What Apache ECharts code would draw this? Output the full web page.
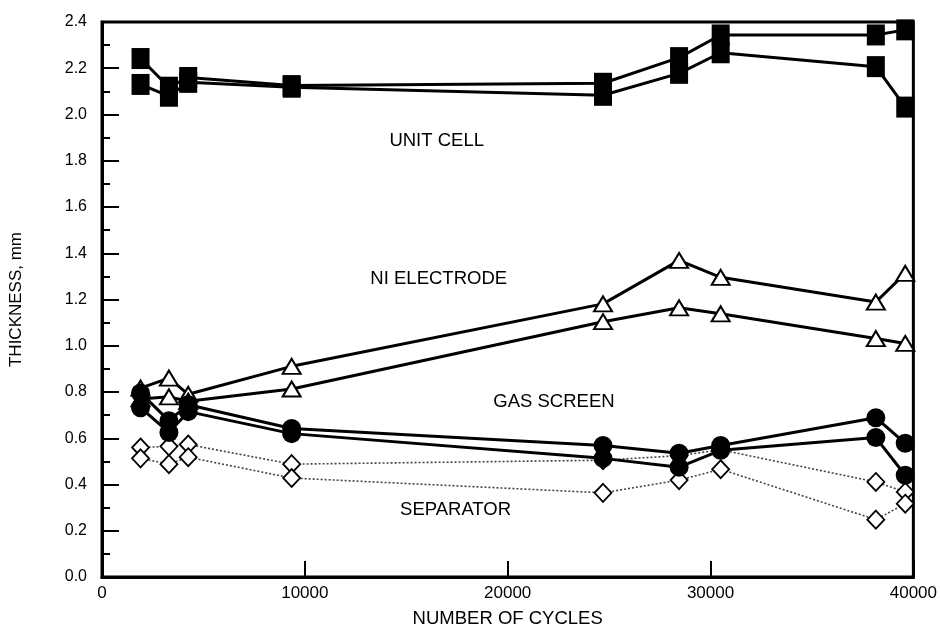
<!DOCTYPE html>
<html>
<head>
<meta charset="utf-8">
<script src="https://cdn.jsdelivr.net/npm/echarts@6/dist/echarts.min.js"></script>
<style>
html,body{margin:0;padding:0;background:#fff;}
#c{width:940px;height:633px;}
</style>
</head>
<body>
<div id="c"></div>
<script>
const cycles = [1900, 3300, 4250, 9350, 24700, 28450, 30500, 38150, 39600];
const unitCellA = [2.242, 2.118, 2.160, 2.125, 2.135, 2.246, 2.344, 2.344, 2.366];
const unitCellB = [2.130, 2.079, 2.139, 2.118, 2.083, 2.178, 2.267, 2.207, 2.032];
const niElectrodeA = [0.817, 0.860, 0.790, 0.911, 1.181, 1.369, 1.296, 1.189, 1.313];
const niElectrodeB = [0.770, 0.779, 0.760, 0.813, 1.104, 1.164, 1.138, 1.031, 1.010];
const gasScreenA = [0.796, 0.676, 0.745, 0.642, 0.569, 0.535, 0.569, 0.689, 0.578];
const gasScreenB = [0.732, 0.625, 0.715, 0.620, 0.513, 0.475, 0.548, 0.603, 0.440];
const separatorA = [0.560, 0.565, 0.573, 0.488, 0.505, 0.525, 0.550, 0.411, 0.368];
const separatorB = [0.513, 0.488, 0.518, 0.428, 0.364, 0.419, 0.466, 0.248, 0.317];
const labelNames = ['UNIT CELL', 'NI ELECTRODE', 'GAS SCREEN', 'SEPARATOR'];
const labelX = [16500, 16600, 22280, 17430];
const labelY = [1.887, 1.288, 0.757, 0.291];

const FONT = 'Liberation Sans, Arial, sans-serif';
const pair = (ys) => cycles.map((x, i) => [x, ys[i]]);

function mkSeries(ys, opt) {
  return Object.assign({
    type: 'line',
    data: pair(ys),
    clip: false,
    animation: false,
    silent: true
  }, opt);
}

const solid = { color: '#000', width: 3 };
const sepLine = { color: '#444', width: 1.6, type: [2, 2] };

const series = [
  mkSeries(separatorA, { symbol: 'diamond', symbolSize: [17, 18], lineStyle: sepLine, itemStyle: { color: '#fff', borderColor: '#000', borderWidth: 1.8 }, z: 2 }),
  mkSeries(separatorB, { symbol: 'diamond', symbolSize: [17, 18], lineStyle: sepLine, itemStyle: { color: '#fff', borderColor: '#000', borderWidth: 1.8 }, z: 2 }),
  mkSeries(niElectrodeA, { symbol: 'triangle', symbolSize: [18, 15], lineStyle: solid, itemStyle: { color: '#fff', borderColor: '#000', borderWidth: 2 }, z: 3 }),
  mkSeries(niElectrodeB, { symbol: 'triangle', symbolSize: [18, 15], lineStyle: solid, itemStyle: { color: '#fff', borderColor: '#000', borderWidth: 2 }, z: 3 }),
  mkSeries(gasScreenA, { symbol: 'circle', symbolSize: 19, lineStyle: solid, itemStyle: { color: '#000' }, z: 4 }),
  mkSeries(gasScreenB, { symbol: 'circle', symbolSize: 19, lineStyle: solid, itemStyle: { color: '#000' }, z: 4 }),
  mkSeries(unitCellA, { symbol: 'rect', symbolSize: [18, 21], lineStyle: solid, itemStyle: { color: '#000' }, z: 5 }),
  mkSeries(unitCellB, { symbol: 'rect', symbolSize: [18, 21], lineStyle: solid, itemStyle: { color: '#000' }, z: 5 }),
  {
    type: 'scatter',
    symbol: 'circle',
    symbolSize: 1,
    silent: true,
    animation: false,
    clip: false,
    itemStyle: { color: 'rgba(0,0,0,0)', opacity: 1 },
    data: labelNames.map((n, i) => ({ value: [labelX[i], labelY[i]], name: n })),
    label: {
      show: true,
      position: 'inside',
      formatter: (p) => p.name,
      color: '#000',
      textBorderWidth: 0,
      fontFamily: FONT,
      fontSize: 18.5
    },
    labelLayout: { hideOverlap: false },
    z: 6
  }
];

const chart = echarts.init(document.getElementById('c'), null, { renderer: 'canvas' });
chart.setOption({
  backgroundColor: '#fff',
  animation: false,
  grid: { left: 100, right: 23, top: 22, bottom: 50, show: true, borderColor: '#000', borderWidth: 3, backgroundColor: 'transparent' },
  xAxis: {
    type: 'value',
    min: 0, max: 40000, interval: 10000,
    name: 'NUMBER OF CYCLES',
    nameLocation: 'middle',
    nameGap: 32,
    nameTextStyle: { color: '#000', fontFamily: FONT, fontSize: 18.5 },
    axisLine: { show: true, lineStyle: { color: '#000', width: 3 } },
    axisTick: { show: true, inside: true, length: 16, lineStyle: { color: '#000', width: 2 } },
    axisLabel: { color: '#000', fontFamily: FONT, fontSize: 17, margin: 8, formatter: (v) => String(v) },
    splitLine: { show: false }
  },
  yAxis: {
    type: 'value',
    min: 0, max: 2.4, interval: 0.2,
    name: 'THICKNESS, mm',
    nameLocation: 'middle',
    nameGap: 77,
    nameTextStyle: { color: '#000', fontFamily: FONT, fontSize: 17 },
    axisLine: { show: true, lineStyle: { color: '#000', width: 3 } },
    axisTick: { show: true, inside: true, length: 17, lineStyle: { color: '#000', width: 2 } },
    minorTick: { show: true, splitNumber: 2, length: 8, lineStyle: { color: '#000', width: 2 } },
    axisLabel: { color: '#000', fontFamily: FONT, fontSize: 16, margin: 15, formatter: (v) => v.toFixed(1) },
    splitLine: { show: false },
    minorSplitLine: { show: false }
  },
  series: series
});
</script>
</body>
</html>
